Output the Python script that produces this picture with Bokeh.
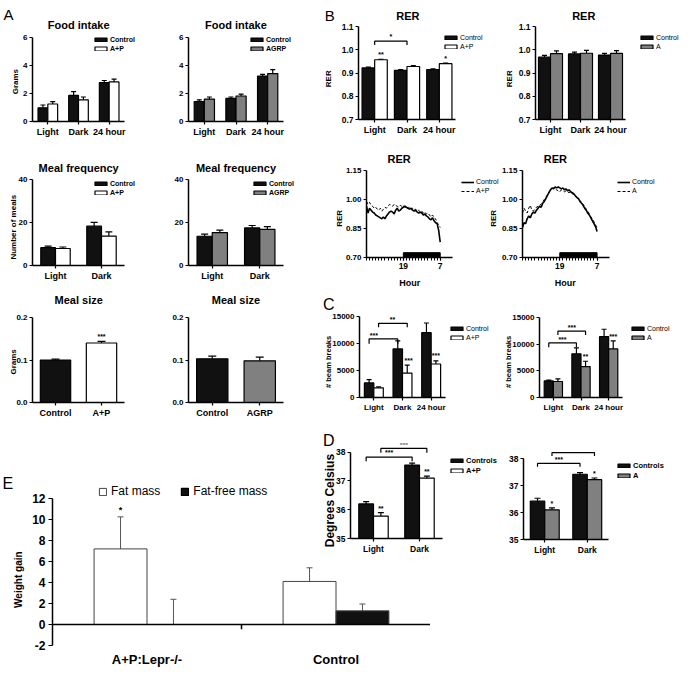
import math
from bokeh.plotting import figure
from bokeh.models import (Label, Legend, LegendItem, FixedTicker, Whisker, TeeHead, Plot,
                          ColumnDataSource, Range1d, Span, PrintfTickFormatter)
from bokeh.layouts import row, column
from bokeh.embed import file_html
from bokeh.resources import INLINE

# ---------------- data ----------------
food_cats = ["Light", "Dark", "24 hour"]
food_ctrl_a = [0.98, 1.86, 2.78]
food_ctrl_a_err = [0.20, 0.27, 0.15]
food_ap = [1.25, 1.55, 2.83]
food_ap_err = [0.17, 0.20, 0.20]
food_ctrl_b = [1.43, 1.65, 3.25]
food_ctrl_b_err = [0.12, 0.10, 0.12]
food_agrp = [1.60, 1.82, 3.42]
food_agrp_err = [0.15, 0.13, 0.28]
food_ticks = [0, 2, 4, 6]

freq_cats = ["Light", "Dark"]
freq_ctrl_a = [8.3, 18.3]
freq_ctrl_a_err = [0.7, 1.8]
freq_ap = [7.9, 13.7]
freq_ap_err = [0.7, 1.9]
freq_ctrl_b = [13.6, 17.5]
freq_ctrl_b_err = [1.0, 1.1]
freq_agrp = [15.3, 16.8]
freq_agrp_err = [1.2, 1.3]
freq_ticks = [0, 20, 40]

size_cats_ap = ["Control", "A+P"]
size_ap = [0.100, 0.140]
size_ap_err = [0.002, 0.004]
size_cats_agrp = ["Control", "AGRP"]
size_agrp = [0.103, 0.098]
size_agrp_err = [0.006, 0.009]
size_ticks = [0.0, 0.1, 0.2]

rer_cats = ["Light", "Dark", "24 hour"]
rer_ctrl_a = [0.922, 0.911, 0.915]
rer_ctrl_a_err = [0.003, 0.004, 0.003]
rer_ap = [0.957, 0.928, 0.940]
rer_ap_err = [0.002, 0.004, 0.003]
rer_ctrl_b = [0.968, 0.982, 0.977]
rer_ctrl_b_err = [0.008, 0.008, 0.007]
rer_a = [0.983, 0.985, 0.984]
rer_a_err = [0.012, 0.012, 0.012]
rer_ticks = [0.7, 0.8, 0.9, 1.0, 1.1]

hours = [7, 7.5, 8, 8.5, 9, 9.5, 10, 10.5, 11, 11.5,
         12, 12.5, 13, 13.5, 14, 14.5, 15, 15.5, 16, 16.5,
         17, 17.5, 18, 18.5, 19, 19.5, 20, 20.5, 21, 21.5,
         22, 22.5, 23, 23.5, 24, 24.5, 25, 25.5, 26, 26.5,
         27, 27.5, 28, 28.5, 29, 29.5, 30, 30.5, 31]
rer_line_ctrl_a = [0.965, 0.930, 0.955, 0.945, 0.935, 0.930, 0.920, 0.915, 0.910, 0.905,
                   0.900, 0.910, 0.900, 0.915, 0.925, 0.935, 0.940, 0.935, 0.925, 0.945,
                   0.955, 0.940, 0.945, 0.955, 0.960, 0.965, 0.960, 0.955, 0.950, 0.955,
                   0.945, 0.940, 0.945, 0.935, 0.930, 0.935, 0.930, 0.920, 0.925, 0.915,
                   0.910, 0.900, 0.895, 0.905, 0.890, 0.880, 0.875, 0.840, 0.780]
rer_line_ap = [0.990, 0.975, 0.985, 0.970, 0.965, 0.955, 0.960, 0.950, 0.945, 0.955,
               0.940, 0.950, 0.960, 0.955, 0.965, 0.975, 0.970, 0.965, 0.975, 0.970,
               0.965, 0.960, 0.970, 0.965, 0.970, 0.960, 0.965, 0.955, 0.960, 0.950,
               0.955, 0.945, 0.950, 0.940, 0.945, 0.935, 0.940, 0.930, 0.935, 0.925,
               0.930, 0.920, 0.910, 0.920, 0.905, 0.900, 0.880, 0.870, 0.855]
rer_line_ctrl_b = [0.855, 0.880, 0.875, 0.900, 0.915, 0.905, 0.925, 0.935, 0.930, 0.945,
                   0.955, 0.965, 0.960, 0.980, 0.990, 1.005, 1.020, 1.035, 1.050, 1.060,
                   1.055, 1.065, 1.060, 1.065, 1.060, 1.055, 1.060, 1.050, 1.055, 1.045,
                   1.050, 1.040, 1.035, 1.030, 1.020, 1.010, 1.005, 0.990, 0.980, 0.970,
                   0.955, 0.945, 0.930, 0.920, 0.905, 0.890, 0.875, 0.860, 0.835]
rer_line_a = [0.930, 0.955, 0.940, 0.930, 0.955, 0.970, 0.945, 0.940, 0.950, 0.960,
              0.965, 0.970, 0.975, 0.985, 1.000, 1.010, 1.025, 1.040, 1.045, 1.055,
              1.060, 1.055, 1.050, 1.045, 1.040, 1.050, 1.045, 1.040, 1.045, 1.040,
              1.035, 1.040, 1.030, 1.025, 1.020, 1.010, 1.000, 0.995, 0.985, 0.975,
              0.965, 0.950, 0.940, 0.925, 0.910, 0.900, 0.885, 0.870, 0.850]
line_ticks = [0.70, 0.85, 1.00, 1.15]
hour_ticks = [19, 31]
hour_tick_labels = ["19", "7"]
hour_minor = list(range(7, 32))
dark_start, dark_end = 19, 31

beam_cats = ["Light", "Dark", "24 hour"]
beam_ctrl_a = [2700, 9000, 12000]
beam_ctrl_a_err = [600, 1500, 1800]
beam_ap = [1800, 4500, 6200]
beam_ap_err = [150, 1500, 600]
beam_ctrl_b = [3100, 8200, 11400]
beam_ctrl_b_err = [150, 1100, 1400]
beam_a = [3000, 5800, 9100]
beam_a_err = [500, 1000, 1500]
beam_ticks = [0, 5000, 10000, 15000]

temp_cats = ["Light", "Dark"]
temp_ctrl_a = [36.20, 37.55]
temp_ctrl_a_err = [0.08, 0.07]
temp_ap = [35.78, 37.10]
temp_ap_err = [0.12, 0.07]
temp_ctrl_b = [36.42, 37.42]
temp_ctrl_b_err = [0.11, 0.06]
temp_a = [36.10, 37.22]
temp_a_err = [0.07, 0.06]
temp_ticks = [35, 36, 37, 38]

wg_cats = ["A+P:Lepr-/-", "Control"]
wg_fat = [7.2, 4.1]
wg_fat_err = [3.05, 1.3]
wg_free = [0.0, 1.3]
wg_free_err = [2.4, 0.65]
wg_ticks = [-2, 0, 2, 4, 6, 8, 10, 12]

# ---------------- helpers ----------------
K = 0.977
W_REF, H_REF = 695, 680
FONT = "Liberation Sans"
BLACK = "#111111"
WHITE = "#ffffff"
GRAY = "#808080"
VERT = math.pi / 2
FA = {"frame_align": False} if "frame_align" in Plot.properties() else {}


def S(v):
    return int(round(v * K))


class Pan:
    def __init__(self, box, frame, xr, yr):
        bx0, by0, bx1, by1 = box
        fx0, fy0, fx1, fy1 = frame
        p = figure(title=None, frame_width=S(fx1) - S(fx0), frame_height=S(fy1) - S(fy0),
                   min_border_left=S(fx0) - S(bx0), min_border_right=S(bx1) - S(fx1),
                   min_border_top=S(fy0) - S(by0), min_border_bottom=S(by1) - S(fy1),
                   x_range=Range1d(*xr), y_range=Range1d(*yr),
                   output_backend="svg", toolbar_location=None, tools="",
                   background_fill_color=None, border_fill_color=None,
                   outline_line_color=None, **FA)
        p.grid.visible = False
        for ax in p.axis:
            ax.axis_line_width = 1.5
            ax.axis_line_color = "black"
            ax.major_tick_line_width = 1.2
            ax.major_tick_line_color = "black"
            ax.major_tick_out = 3
            ax.major_tick_in = 0
            ax.minor_tick_line_color = None
            ax.major_label_text_font = FONT
            ax.major_label_text_font_style = "bold"
            ax.major_label_text_color = "black"
            ax.major_label_standoff = 2
            ax.major_label_text_font_size = "8px"
        self.p = p

    def star(self, x, y, s, size="7px"):
        self.p.add_layout(Label(x=x, y=y, text=s, text_font=FONT, text_font_size=size,
                                text_font_style="bold", text_align="center",
                                text_baseline="bottom", text_color="black"))

    def bracket(self, x0, x1, y, drop):
        self.p.line([x0, x0, x1, x1], [y - drop, y, y, y - drop],
                    line_color="black", line_width=1.2)


def bar_chart(pan, cats, series, bw, base, yticks, yfmt=None, ybounds=None,
              xfs="8px", yfs="8px", cap=6, line_color="black", err_color="black", lw=1.2):
    p = pan.p
    n = len(cats)
    m = len(series)
    pos = []
    for gi, (vals, errs, fill) in enumerate(series):
        off = (gi - (m - 1) / 2.0) * bw
        xs = [i + 0.5 + off for i in range(n)]
        fills = fill if isinstance(fill, list) else [fill] * n
        src = ColumnDataSource(dict(x=xs, top=list(vals),
                                    up=[v + e for v, e in zip(vals, errs)], fill=fills))
        p.vbar(x="x", top="top", bottom=base, width=bw, fill_color="fill",
               line_color=line_color, line_width=lw, source=src)
        p.add_layout(Whisker(source=src, base="x", lower="top", upper="up", dimension="height",
                             line_color=err_color, line_width=lw, lower_head=None,
                             upper_head=TeeHead(size=cap, line_color=err_color, line_width=lw)))
        pos.append(xs)
    centers = [i + 0.5 for i in range(n)]
    p.xaxis.ticker = FixedTicker(ticks=centers)
    p.xaxis.major_label_overrides = {c: t for c, t in zip(centers, cats)}
    p.xaxis.major_label_text_font_size = xfs
    p.yaxis.ticker = FixedTicker(ticks=yticks)
    p.yaxis.major_label_text_font_size = yfs
    if yfmt:
        p.yaxis.formatter = PrintfTickFormatter(format=yfmt)
    if ybounds:
        p.yaxis.bounds = ybounds
    return pos


# overlay figure that carries every free text and legend (coordinates = reference pixels)
over = figure(width=S(W_REF), height=S(H_REF), x_range=Range1d(0, W_REF), y_range=Range1d(H_REF, 0),
              min_border=0, min_border_left=0, min_border_right=0, min_border_top=0,
              min_border_bottom=0, x_axis_location=None, y_axis_location=None,
              toolbar_location=None, tools="", output_backend="svg",
              background_fill_color=None, border_fill_color=None, outline_line_color=None, **FA)
over.grid.visible = False


def otxt(X, Y, s, size, bold=True, align="center", baseline="middle", angle=0.0):
    over.add_layout(Label(x=X, y=Y, text=s, text_font=FONT, text_font_size=size,
                          text_font_style="bold" if bold else "normal",
                          text_align=align, text_baseline=baseline, angle=angle,
                          text_color="black"))


def olegend(entries, topleft, size, bold, glyph_w=15, glyph_h=5, item_h=8,
            spacing=1, orientation="vertical", standoff=2):
    items = []
    for label, kind, style in entries:
        # legend proxies: one hidden point each, only their swatches are shown
        if kind == "bar":
            r = over.vbar(x=[0], top=[0], width=1, fill_color=style, line_color="black",
                          line_width=1.2, visible=False)
        elif kind == "ebar":
            r = over.vbar(x=[0], top=[0], width=1, fill_color=style, line_color="#444444",
                          line_width=1, visible=False)
        else:
            r = over.line(x=[0], y=[0], line_color="black", line_width=style[0],
                          line_dash=style[1], visible=False)
        items.append(LegendItem(label=label, renderers=[r]))
    n = len(items)
    H = item_h if orientation == "horizontal" else n * item_h + (n - 1) * spacing
    X, Y = topleft
    over.add_layout(Legend(items=items, location=(S(X), S(H_REF) - S(Y) - H),
                           orientation=orientation, label_text_font=FONT,
                           label_text_font_size=size, label_text_color="black",
                           label_text_font_style="bold" if bold else "normal",
                           glyph_width=glyph_w, glyph_height=glyph_h, label_height=item_h,
                           label_standoff=standoff, spacing=spacing, padding=0, margin=0,
                           border_line_color=None, background_fill_alpha=0,
                           inactive_fill_alpha=0))


# ---------------- Panel A ----------------
a11 = Pan((0, 0, 165, 145), (33, 38, 127, 124), (0, 3), (0, 6))
bar_chart(a11, food_cats, [(food_ctrl_a, food_ctrl_a_err, BLACK), (food_ap, food_ap_err, WHITE)],
          0.32, 0, food_ticks, xfs="9px", cap=5)
a12 = Pan((165, 0, 330, 145), (192, 38, 290, 124), (0, 3), (0, 6))
bar_chart(a12, food_cats, [(food_ctrl_b, food_ctrl_b_err, BLACK), (food_agrp, food_agrp_err, GRAY)],
          0.32, 0, food_ticks, xfs="9px", cap=5)
a21 = Pan((0, 145, 165, 287), (33, 183, 127, 271), (0, 2), (0, 40))
bar_chart(a21, freq_cats, [(freq_ctrl_a, freq_ctrl_a_err, BLACK), (freq_ap, freq_ap_err, WHITE)],
          0.32, 0, freq_ticks, xfs="9px", cap=7)
a22 = Pan((165, 145, 330, 287), (192, 183, 290, 271), (0, 2), (0, 40))
bar_chart(a22, freq_cats, [(freq_ctrl_b, freq_ctrl_b_err, BLACK), (freq_agrp, freq_agrp_err, GRAY)],
          0.32, 0, freq_ticks, xfs="9px", cap=7)
a31 = Pan((0, 287, 165, 430), (33, 321, 127, 408), (0, 2), (0, 0.2))
pos = bar_chart(a31, size_cats_ap, [(size_ap, size_ap_err, [BLACK, WHITE])],
                0.66, 0, size_ticks, yfmt="%.1f", xfs="9px", cap=8)
a31.star(pos[0][1], size_ap[1] + size_ap_err[1] + 0.002, "***")
a32 = Pan((165, 287, 330, 430), (192, 321, 290, 408), (0, 2), (0, 0.2))
bar_chart(a32, size_cats_agrp, [(size_agrp, size_agrp_err, [BLACK, GRAY])],
          0.66, 0, size_ticks, yfmt="%.1f", xfs="9px", cap=8)

otxt(3, 1, "A", "15px", bold=False, align="left", baseline="top")
otxt(80, 20, "Food intake", "11px")
otxt(241, 20, "Food intake", "11px")
otxt(80, 166, "Meal frequency", "11px")
otxt(241, 166, "Meal frequency", "11px")
otxt(80, 302, "Meal size", "11px")
otxt(241, 302, "Meal size", "11px")
otxt(15, 78, "Grams", "8px", angle=VERT)
otxt(13, 227, "Number of meals", "8px", angle=VERT)
otxt(13, 365, "Grams", "8px", angle=VERT)
olegend([("Control", "bar", BLACK), ("A+P", "bar", WHITE)], (95, 31), "7px", True)
olegend([("Control", "bar", BLACK), ("AGRP", "bar", GRAY)], (255, 31), "7px", True)
olegend([("Control", "bar", BLACK), ("A+P", "bar", WHITE)], (95, 178), "7px", True)
olegend([("Control", "bar", BLACK), ("AGRP", "bar", GRAY)], (258, 178), "7px", True)

# ---------------- Panel B ----------------
b11 = Pan((330, 0, 510, 140), (366, 27, 466, 122), (0, 3), (0.7, 1.1))
pos = bar_chart(b11, rer_cats, [(rer_ctrl_a, rer_ctrl_a_err, BLACK), (rer_ap, rer_ap_err, WHITE)],
                0.39, 0.7, rer_ticks, yfmt="%.1f", xfs="9px", yfs="8.5px", cap=5)
b11.star(pos[1][0], rer_ap[0] + rer_ap_err[0] + 0.004, "**")
b11.star(pos[1][2], rer_ap[2] + rer_ap_err[2] + 0.004, "*")
b11.bracket(0.5, 1.5, 1.037, 0.017)
b11.star(1.0, 1.040, "*")

b12 = Pan((510, 0, 695, 140), (548, 27, 640, 122), (0, 3), (0.7, 1.1))
bar_chart(b12, rer_cats, [(rer_ctrl_b, rer_ctrl_b_err, BLACK), (rer_a, rer_a_err, GRAY)],
          0.4, 0.7, rer_ticks, yfmt="%.1f", xfs="9px", yfs="8.5px", cap=5)

otxt(332, 2, "B", "15px", bold=False, align="left", baseline="top")
otxt(417, 11, "RER", "11px")
otxt(597, 11, "RER", "11px")
otxt(336, 75, "RER", "8px", angle=VERT)
otxt(521, 75, "RER", "8px", angle=VERT)
olegend([("Control", "bar", BLACK), ("A+P", "bar", WHITE)], (453, 29), "7px", False)
olegend([("Control", "bar", BLACK), ("A", "bar", GRAY)], (654, 29), "7px", False)


def line_panel(box, frame, ctrl, other):
    pan = Pan(box, frame, (7, 35), (0.70, 1.15))
    p = pan.p
    p.line(hours, ctrl, line_color="black", line_width=1.6)
    p.line(hours, other, line_color="black", line_width=1.0, line_dash="3 2")
    p.quad(left=[dark_start], right=[dark_end], bottom=[0.70], top=[0.725],
           fill_color="black", line_color="black")
    p.xaxis.ticker = FixedTicker(ticks=hour_ticks, minor_ticks=hour_minor)
    p.xaxis.major_label_overrides = {t: s for t, s in zip(hour_ticks, hour_tick_labels)}
    p.xaxis.minor_tick_line_color = "black"
    p.xaxis.minor_tick_line_width = 1
    p.xaxis.minor_tick_out = 3
    p.xaxis.minor_tick_in = 0
    p.xaxis.major_label_text_font_size = "8.5px"
    p.yaxis.ticker = FixedTicker(ticks=line_ticks)
    p.yaxis.formatter = PrintfTickFormatter(format="%.2f")
    return pan


b21 = line_panel((330, 140, 510, 290), (375, 174, 463, 263), rer_line_ctrl_a, rer_line_ap)
b22 = line_panel((510, 140, 695, 290), (533, 174, 622, 263), rer_line_ctrl_b, rer_line_a)
otxt(408, 157, "RER", "11px")
otxt(568, 157, "RER", "11px")
otxt(347, 218, "RER", "8px", angle=VERT)
otxt(505, 218, "RER", "8px", angle=VERT)
otxt(419, 284, "Hour", "9px")
otxt(578, 284, "Hour", "9px")
olegend([("Control", "line", (1.6, "solid")), ("A+P", "line", (1.0, "3 2"))], (472, 176),
        "7px", False, glyph_w=13, glyph_h=6, item_h=9, spacing=0)
olegend([("Control", "line", (1.6, "solid")), ("A", "line", (1.0, "3 2"))], (632, 176),
        "7px", False, glyph_w=13, glyph_h=6, item_h=9, spacing=0)

# ---------------- Panel C ----------------
c1 = Pan((330, 290, 510, 430), (367, 323, 455, 406), (0, 3), (0, 15000))
pos = bar_chart(c1, beam_cats, [(beam_ctrl_a, beam_ctrl_a_err, BLACK), (beam_ap, beam_ap_err, WHITE)],
                0.33, 0, beam_ticks, cap=5)
c1.bracket(pos[0][0], pos[0][1], 10840, 900)
c1.star(0.5, 10900, "***")
c1.bracket(pos[1][0], pos[1][1], 13730, 700)
c1.star(1.15, 13800, "**")
c1.star(pos[1][1] + 0.05, beam_ap[1] + beam_ap_err[1] + 150, "***")
c1.star(pos[1][2], beam_ap[2] + beam_ap_err[2] + 300, "***")

c2 = Pan((510, 290, 695, 430), (552, 324, 637, 406), (0, 3), (0, 15000))
pos = bar_chart(c2, beam_cats, [(beam_ctrl_b, beam_ctrl_b_err, BLACK), (beam_a, beam_a_err, GRAY)],
                0.33, 0, beam_ticks, cap=5)
c2.bracket(pos[0][0], pos[0][1], 10240, 800)
c2.star(0.83, 10300, "***")
c2.bracket(pos[1][0], pos[1][1], 12440, 700)
c2.star(1.17, 12500, "***")
c2.star(pos[1][1], beam_a[1] + beam_a_err[1] + 200, "**")
c2.star(pos[1][2], beam_a[2] + beam_a_err[2] + 200, "***")

otxt(330, 297, "C", "16px", bold=False, align="left", baseline="top")
otxt(336, 365, "# beam breaks", "7.5px", angle=VERT)
otxt(520, 365, "# beam breaks", "7.5px", angle=VERT)
olegend([("Control", "bar", BLACK), ("A+P", "bar", WHITE)], (460, 326), "7px", False)
olegend([("Control", "bar", BLACK), ("A", "bar", GRAY)], (645, 326), "7px", False)

# ---------------- Panel D ----------------
d1 = Pan((330, 430, 510, 570), (358, 453, 452, 551), (0, 2), (35, 38.3))
pos = bar_chart(d1, temp_cats, [(temp_ctrl_a, temp_ctrl_a_err, BLACK), (temp_ap, temp_ap_err, WHITE)],
                0.32, 35, temp_ticks, ybounds=(35, 38), xfs="8.5px", yfs="8.5px", cap=6)
d1.bracket(pos[0][0], pos[0][1], 37.83, 0.15)
d1.star(0.84, 37.85, "***")
d1.bracket(pos[1][0], pos[1][1], 38.13, 0.15)
d1.star(1.16, 38.15, "***")
d1.star(pos[1][0], temp_ap[0] + temp_ap_err[0] + 0.03, "**")
d1.star(pos[1][1], temp_ap[1] + temp_ap_err[1] + 0.03, "**")

d2 = Pan((510, 430, 695, 570), (535, 461, 622, 552), (0, 2), (35, 38.3))
pos = bar_chart(d2, temp_cats, [(temp_ctrl_b, temp_ctrl_b_err, BLACK), (temp_a, temp_a_err, GRAY)],
                0.34, 35, temp_ticks, ybounds=(35, 38), xfs="8.5px", yfs="8.5px", cap=6)
d2.bracket(pos[0][0], pos[0][1], 37.82, 0.12)
d2.star(0.83, 37.84, "***")
d2.bracket(pos[1][0], pos[1][1], 38.22, 0.12)
d2.star(1.17, 38.24, "***")
d2.star(pos[1][0], temp_a[0] + temp_a_err[0] + 0.03, "*")
d2.star(pos[1][1], temp_a[1] + temp_a_err[1] + 0.03, "*")

otxt(330, 437, "D", "16px", bold=False, align="left", baseline="top")
otxt(337, 507, "Degrees Celsius", "12px", angle=VERT)
olegend([("Controls", "bar", BLACK), ("A+P", "bar", WHITE)], (460, 464), "7.5px", True)
olegend([("Controls", "bar", BLACK), ("A", "bar", GRAY)], (630, 469), "7.5px", True)

# ---------------- Panel E ----------------
e = Pan((0, 475, 440, 680), (53, 510, 440, 660), (0, 2), (-2, 12))
pos = bar_chart(e, wg_cats, [(wg_fat, wg_fat_err, WHITE), (wg_free, wg_free_err, BLACK)],
                0.28, 0, wg_ticks, yfmt="%d", xfs="13px", yfs="12px", cap=6,
                line_color="#444444", err_color="#555555", lw=1)
e.p.xaxis.axis_line_color = None
e.p.xaxis.major_tick_line_color = None
e.p.xaxis.major_label_standoff = 3
e.p.yaxis.major_tick_out = 4
e.p.yaxis.major_label_standoff = 3
e.p.add_layout(Span(location=0, dimension="width", line_color="black", line_width=1.5))
e.p.segment(x0=[len(wg_cats) / 2], y0=[0], x1=[len(wg_cats) / 2], y1=[-0.45],
            line_color="black", line_width=1.5)
e.star(pos[0][0], wg_fat[0] + wg_fat_err[0] + 0.2, "*", size="9px")
e.p.margin = (-(S(570) - S(475)), 0, 0, 0)

otxt(2, 481, "E", "16px", bold=False, align="left", baseline="top")
otxt(18, 588, "Weight gain", "10px", angle=VERT)
olegend([("Fat mass", "ebar", WHITE), ("Fat-free mass", "bar", BLACK)], (100, 490), "12px", False,
        glyph_w=9, glyph_h=9, item_h=14, spacing=20, orientation="horizontal", standoff=4)

over.margin = (-S(H_REF), 0, 0, 0)

colA = column(row(a11.p, a12.p), row(a21.p, a22.p), row(a31.p, a32.p))
colB = column(row(b11.p, b12.p), row(b21.p, b22.p), row(c1.p, c2.p), row(d1.p, d2.p))
layout = column(row(colA, colB), e.p, over)

open("out.html", "w").write(file_html(layout, INLINE))
